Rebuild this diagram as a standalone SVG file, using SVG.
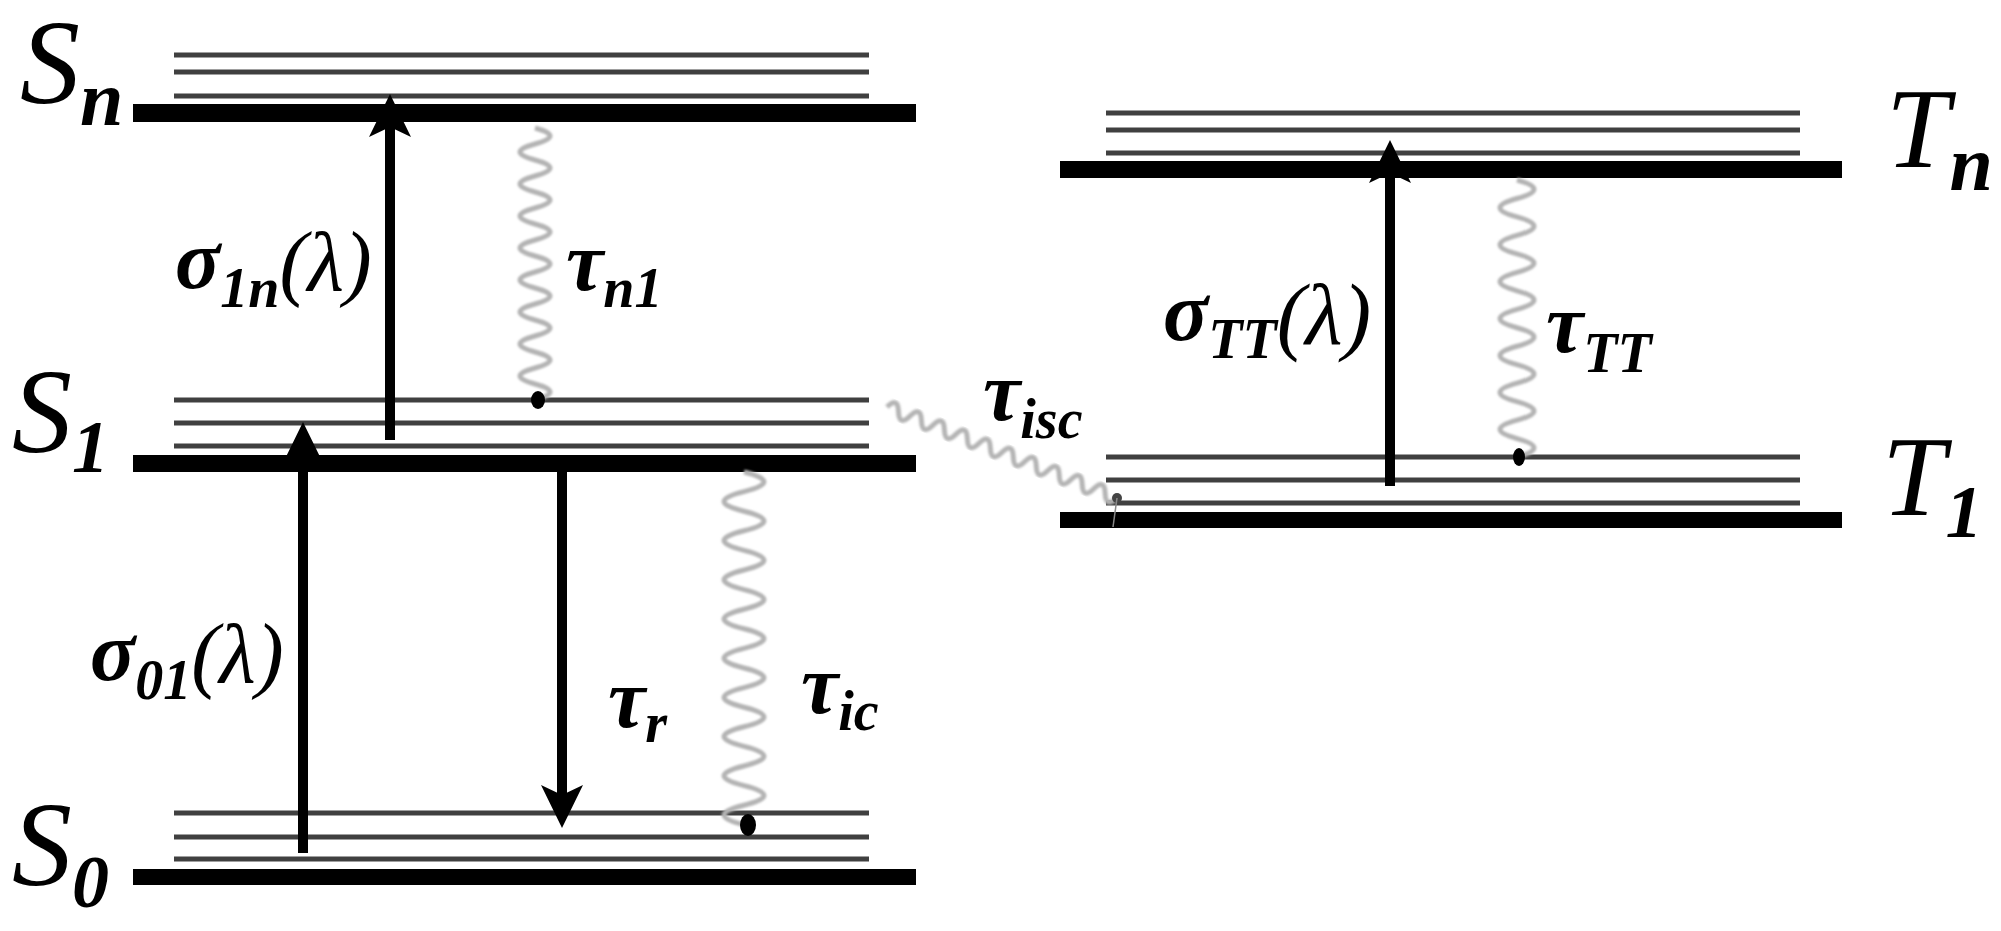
<svg xmlns="http://www.w3.org/2000/svg" width="2001" height="931" viewBox="0 0 2001 931">
<style>
.bar{fill:#000}
.sub{stroke:#404040;stroke-width:5;fill:none}
.arrow{stroke:#000;stroke-width:10;fill:none;marker-end:url(#ah)}
.wave{fill:none;stroke:#b4b4b4;stroke-width:5;filter:url(#soft)}
.dot{fill:#000}
.lbl{font-family:'Liberation Serif',serif;font-style:italic;fill:#000}
.b{font-weight:bold}
</style>
<defs>
<marker id="ah" markerUnits="userSpaceOnUse" markerWidth="44" markerHeight="44" viewBox="0 -22 44 44" refX="10" refY="0" orient="auto">
<path d="M0,-21 L43,0 L0,21 L10,0 Z" fill="#000"/>
</marker>
<filter id="soft" x="-50%" y="-20%" width="200%" height="140%"><feGaussianBlur stdDeviation="0.8"/></filter>
</defs>
<rect width="2001" height="931" fill="#fff"/>

<g id="level-Sn">
<path class="sub" d="M174,55H869M174,72H869M174,96H869"/>
<rect class="bar" x="133" y="104" width="783" height="18"/>
<text class="lbl" font-family="Liberation Serif, serif" font-size="120" x="20" y="103">S<tspan class="b" font-size="78" dy="22">n</tspan></text>
</g>

<g id="level-S1">
<path class="sub" d="M174,400H869M174,423H869M174,446H869"/>
<rect class="bar" x="133" y="455" width="783" height="17"/>
<text class="lbl" font-family="Liberation Serif, serif" font-size="120" x="12" y="452">S<tspan class="b" font-size="74" dy="20">1</tspan></text>
</g>

<g id="level-S0">
<path class="sub" d="M174,813H869M174,837H869M174,859H869"/>
<rect class="bar" x="133" y="869" width="783" height="16"/>
<text class="lbl" font-family="Liberation Serif, serif" font-size="120" x="12" y="885">S<tspan class="b" font-size="74" dy="22">0</tspan></text>
</g>

<g id="level-Tn">
<path class="sub" d="M1106,113H1800M1106,130H1800M1106,153H1800"/>
<rect class="bar" x="1060" y="161" width="782" height="17"/>
<text class="lbl" font-family="Liberation Serif, serif" font-size="114" x="1886" y="167">T<tspan class="b" font-size="78" dy="23">n</tspan></text>
</g>

<g id="level-T1">
<path class="sub" d="M1106,457H1800M1106,480H1800M1106,503H1800"/>
<rect class="bar" x="1060" y="512" width="782" height="16"/>
<text class="lbl" font-family="Liberation Serif, serif" font-size="114" x="1882" y="515">T<tspan class="b" font-size="74" dy="22">1</tspan></text>
</g>

<g id="connectors">
<path class="arrow" d="M390,440V127"/>
<path class="arrow" d="M303,853V455"/>
<path class="arrow" d="M562,455V795"/>
<path class="arrow" d="M1390,486V173"/>

<path class="wave" d="M535,128q30,8 0,16t0,16t0,16t0,16t0,16t0,16t0,16t0,16t0,16t0,16t0,16t0,16t0,16t0,16t0,16t0,16t0,16"/>
<ellipse class="dot" cx="538" cy="400" rx="7" ry="9"/>

<path class="wave" d="M744,472q40,9.8 0,19.6t0,19.6t0,19.6t0,19.6t0,19.6t0,19.6t0,19.6t0,19.6t0,19.6t0,19.6t0,19.6t0,19.6t0,19.6t0,19.6t0,19.6t0,19.6t0,19.6t0,19.6"/>
<ellipse class="dot" cx="748" cy="825" rx="8" ry="11"/>

<path class="wave" d="M1517,180q34,9.235 0,18.47t0,18.47t0,18.47t0,18.47t0,18.47t0,18.47t0,18.47t0,18.47t0,18.47t0,18.47t0,18.47t0,18.47t0,18.47t0,18.47t0,18.47"/>
<ellipse class="dot" cx="1519" cy="457" rx="6" ry="9"/>

<path class="wave" stroke="#aaa" transform="translate(887,407) rotate(21.6)" d="M0,0q6.175,-14 12.35,0t12.35,0t12.35,0t12.35,0t12.35,0t12.35,0t12.35,0t12.35,0t12.35,0t12.35,0t12.35,0t12.35,0t12.35,0t12.35,0t12.35,0t12.35,0t12.35,0t12.35,0t12.35,0t12.35,0"/>
<circle cx="1117" cy="498" r="5" fill="#444"/>
<path d="M1117,498L1113,527" stroke="#888" stroke-width="1.5" fill="none"/>

<g font-family="Liberation Serif, serif">
<text class="lbl b" font-family="Liberation Serif, serif" font-size="84" x="175" y="288">σ<tspan font-size="56" dy="19">1n</tspan><tspan font-weight="normal" dy="-17">(λ)</tspan></text>
<text class="lbl b" font-family="Liberation Serif, serif" font-size="84" x="90" y="680">σ<tspan font-size="56" dy="19">01</tspan><tspan font-weight="normal" dy="-17">(λ)</tspan></text>
<text class="lbl b" font-family="Liberation Serif, serif" font-size="84" x="1163" y="340">σ<tspan font-size="56" dy="18">TT</tspan><tspan font-size="86" font-weight="normal" dy="-14">(λ)</tspan></text>

<text class="lbl b" font-family="Liberation Serif, serif" font-size="84" x="566" y="290">τ<tspan font-size="56" dy="17">n1</tspan></text>
<text class="lbl b" font-family="Liberation Serif, serif" font-size="84" x="608" y="727">τ<tspan font-size="56" dy="15">r</tspan></text>
<text class="lbl b" font-family="Liberation Serif, serif" font-size="84" x="801" y="713">τ<tspan font-size="56" dy="17">ic</tspan></text>
<text class="lbl b" font-family="Liberation Serif, serif" font-size="84" x="983" y="420">τ<tspan font-size="56" dy="18">isc</tspan></text>
<text class="lbl b" font-family="Liberation Serif, serif" font-size="84" x="1546" y="352">τ<tspan font-size="56" dy="20">TT</tspan></text>
</g>
</g>
</svg>
